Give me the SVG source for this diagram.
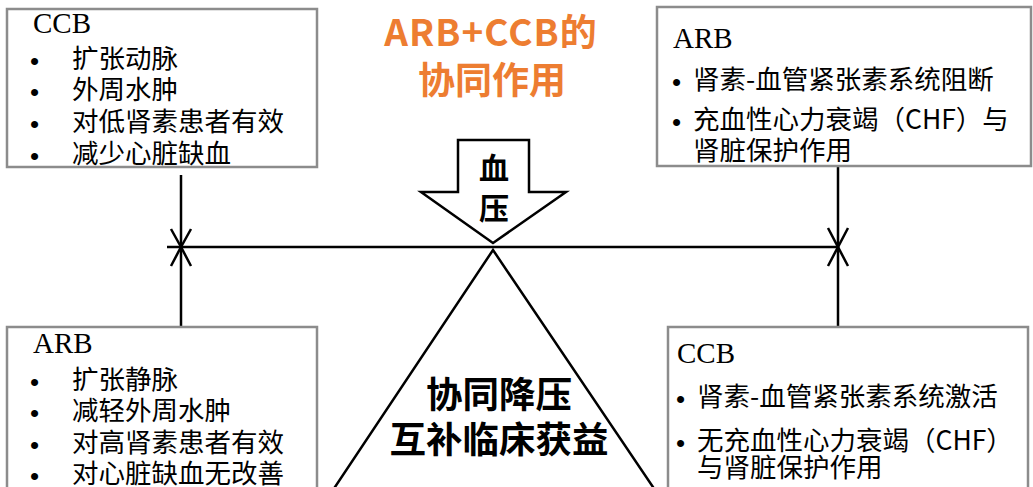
<svg xmlns="http://www.w3.org/2000/svg" width="1033" height="487" viewBox="0 0 1033 487">
<style>
.box{fill:#fff;stroke:#8c8c8c;stroke-width:2.5}
.hd{font-family:"Liberation Serif",serif;font-size:29px;fill:#000}
.tx{font-family:"Noto Sans CJK SC","Noto Sans",sans-serif;font-size:26.5px;fill:#000}
.bt{font-family:"Liberation Sans",sans-serif;font-size:26px;fill:#000}
.ln{stroke:#000;stroke-width:2.5;fill:none}
.ttl{font-family:"Noto Sans CJK SC","Noto Sans",sans-serif;font-size:37px;font-weight:bold;fill:#ED7D31;text-anchor:middle}
.ctr{font-family:"Noto Sans CJK SC","Noto Sans",sans-serif;font-size:36.5px;font-weight:bold;fill:#000;text-anchor:middle}
.arw{font-family:"Noto Sans CJK SC","Noto Sans",sans-serif;font-size:30px;font-weight:bold;fill:#000;text-anchor:middle}
</style>
<rect width="1033" height="487" fill="#fff"/>
<g id="title">
<text class="ttl" x="491" y="46" letter-spacing="1">ARB+CCB的</text>
<text class="ttl" x="492" y="94">协同作用</text>
</g>
<g id="connectors">
<line class="ln" x1="181" y1="175" x2="181" y2="247"/>
<line class="ln" x1="181" y1="247" x2="181" y2="327"/>
<line class="ln" x1="167" y1="247" x2="838" y2="247"/>
<line class="ln" x1="838" y1="166" x2="838" y2="247"/>
<line class="ln" x1="838" y1="247" x2="838" y2="327"/>
<polyline class="ln" points="171,229 181,247 191,229"/>
<polyline class="ln" points="171,266 181,247 191,266"/>
<polyline class="ln" points="828,228 838,247 848,228"/>
<polyline class="ln" points="828,266 838,247 848,266"/>
</g>
<g id="ccb-top">
<rect class="box" x="7" y="9" width="310" height="158"/>
<text class="hd" x="33" y="33">CCB</text>
<text class="bt" x="30" y="70">•</text>
<text class="tx" x="72" y="68">扩张动脉</text>
<text class="bt" x="30" y="101">•</text>
<text class="tx" x="72" y="99">外周水肿</text>
<text class="bt" x="30" y="133">•</text>
<text class="tx" x="72" y="131">对低肾素患者有效</text>
<text class="bt" x="30" y="165">•</text>
<text class="tx" x="72" y="163">减少心脏缺血</text>
</g>
<g id="arb-top">
<rect class="box" x="657" y="7" width="374" height="159"/>
<text class="hd" x="673" y="48">ARB</text>
<text class="bt" x="672" y="91">•</text>
<text class="tx" x="693" y="89">肾素-血管紧张素系统阻断</text>
<text class="bt" x="672" y="131">•</text>
<text class="tx" x="693" y="129">充血性心力衰竭（CHF）与</text>
<text class="tx" x="693" y="160">肾脏保护作用</text>
</g>
<g id="arb-bottom">
<rect class="box" x="7" y="327" width="310" height="175"/>
<text class="hd" x="33" y="353">ARB</text>
<text class="bt" x="30" y="391">•</text>
<text class="tx" x="72" y="389">扩张静脉</text>
<text class="bt" x="30" y="422">•</text>
<text class="tx" x="72" y="420">减轻外周水肿</text>
<text class="bt" x="30" y="454">•</text>
<text class="tx" x="72" y="452">对高肾素患者有效</text>
<text class="bt" x="30" y="485">•</text>
<text class="tx" x="72" y="483">对心脏缺血无改善</text>
</g>
<g id="ccb-bottom">
<rect class="box" x="668" y="327" width="360" height="175"/>
<text class="hd" x="677" y="363">CCB</text>
<text class="bt" x="676" y="408">•</text>
<text class="tx" x="697" y="406">肾素-血管紧张素系统激活</text>
<text class="bt" x="676" y="452">•</text>
<text class="tx" x="697" y="450">无充血性心力衰竭（CHF）</text>
<text class="tx" x="697" y="477">与肾脏保护作用</text>
</g>
<g id="bp-arrow">
<polygon points="458,140 529,140 529,192 566,192 493,243 421,192 458,192" fill="#fff" stroke="#000" stroke-width="2.5" stroke-linejoin="miter"/>
<text class="arw" x="494" y="179">血</text>
<text class="arw" x="494" y="219">压</text>
</g>
<g id="triangle">
<polyline class="ln" points="333,490 493,250 655,490"/>
<text class="ctr" x="499" y="408">协同降压</text>
<text class="ctr" x="499" y="453">互补临床获益</text>
</g>
</svg>
